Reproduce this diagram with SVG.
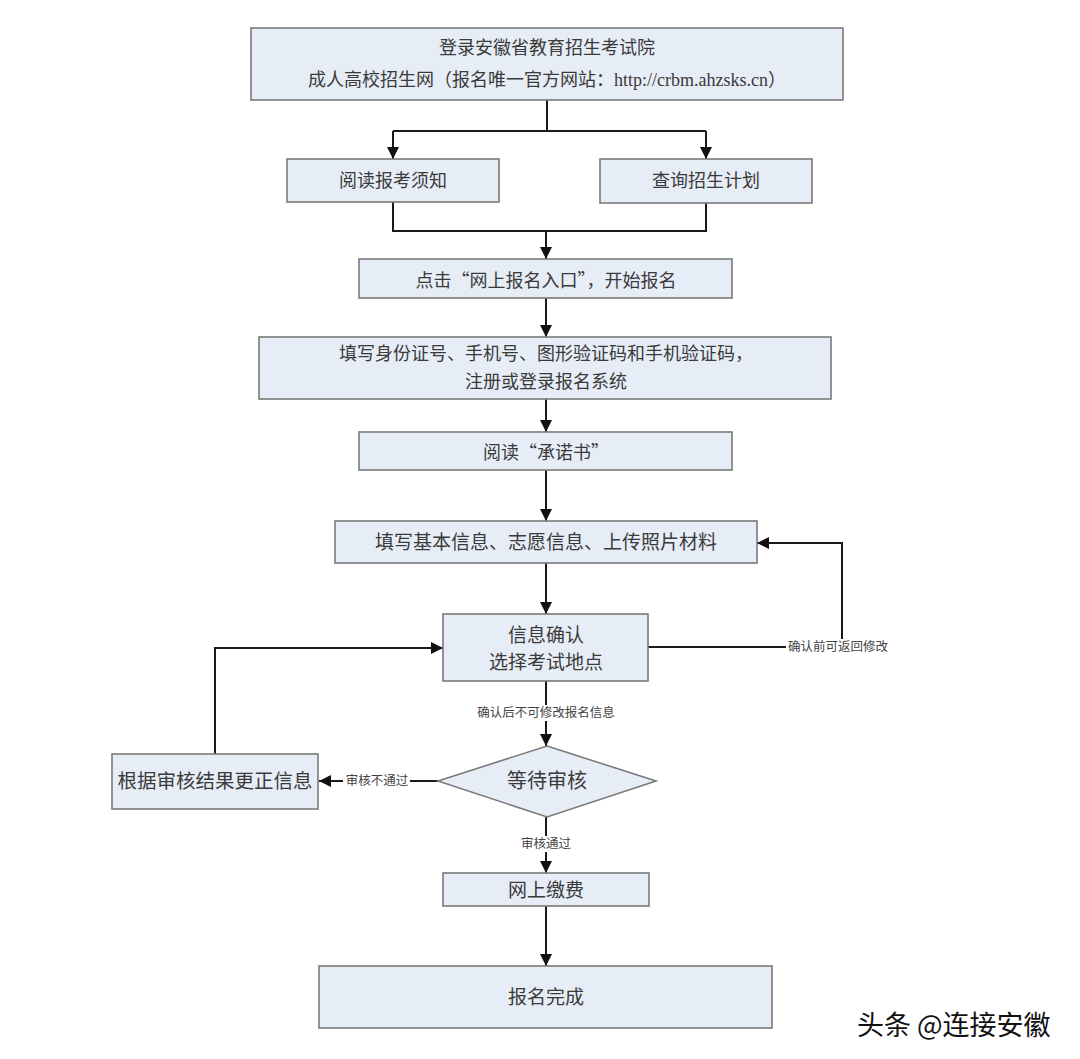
<svg xmlns="http://www.w3.org/2000/svg" width="1080" height="1059" viewBox="0 0 1080 1059">
<defs>
<marker id="arr" markerUnits="userSpaceOnUse" markerWidth="12" markerHeight="12" refX="12" refY="6" orient="auto">
<path d="M0,0 L12,6 L0,12 z" fill="#111"/>
</marker>
<style>
.box{fill:#e7edf6;stroke:#7a7a7a;stroke-width:1.6}
.t{font-family:"Liberation Serif","Noto Sans CJK SC",serif;font-size:18px;fill:#3a3a3a;text-anchor:middle;dominant-baseline:central}
.q{font-family:"Noto Sans CJK SC",sans-serif}
.s{font-family:"Liberation Serif","Noto Sans CJK SC",serif;font-size:12.5px;fill:#444;text-anchor:middle;dominant-baseline:central}
.c{fill:none;stroke:#1a1a1a;stroke-width:2}
.bg{fill:#fff}
</style>
</defs>
<rect width="1080" height="1059" fill="#fff"/>
<g id="connectors">
<path class="c" d="M547,100 V131"/>
<path class="c" d="M393,131 H706"/>
<path class="c" d="M393,131 V159" marker-end="url(#arr)"/>
<path class="c" d="M706,131 V159" marker-end="url(#arr)"/>
<path class="c" d="M393,202 V231 H706 V203"/>
<path class="c" d="M546,231 V259" marker-end="url(#arr)"/>
<path class="c" d="M546,298 V337" marker-end="url(#arr)"/>
<path class="c" d="M546,399 V432" marker-end="url(#arr)"/>
<path class="c" d="M546,470 V521" marker-end="url(#arr)"/>
<path class="c" d="M546,563 V614" marker-end="url(#arr)"/>
<path class="c" d="M546,681 V746" marker-end="url(#arr)"/>
<path class="c" d="M546,817 V873" marker-end="url(#arr)"/>
<path class="c" d="M438,781 H319" marker-end="url(#arr)"/>
<path class="c" d="M215,754 V648 H443" marker-end="url(#arr)"/>
<path class="c" d="M648,647 H842 V543 H757" marker-end="url(#arr)"/>
<path class="c" d="M546,906 V966" marker-end="url(#arr)"/>
<rect class="bg" x="474" y="705" width="144" height="16"/>
<text class="s" x="546" y="713">确认后不可修改报名信息</text>
<rect class="bg" x="517" y="836" width="58" height="16"/>
<text class="s" x="546" y="844">审核通过</text>
<rect class="bg" x="343" y="773" width="67" height="16"/>
<text class="s" x="377" y="781">审核不通过</text>
<rect class="bg" x="786" y="639" width="104" height="16"/>
<text class="s" x="838" y="647">确认前可返回修改</text>
</g>
<g id="n1">
<rect class="box" x="251" y="28" width="592" height="72"/>
<text class="t" x="547" y="48">登录安徽省教育招生考试院</text>
<text class="t" x="547" y="80">成人高校招生网（报名唯一官方网站：http://crbm.ahzsks.cn）</text>
</g>
<g id="n2">
<rect class="box" x="287" y="159" width="212" height="43"/>
<text class="t" x="393" y="181">阅读报考须知</text>
</g>
<g id="n3">
<rect class="box" x="600" y="159" width="212" height="44"/>
<text class="t" x="706" y="181">查询招生计划</text>
</g>
<g id="n4">
<rect class="box" x="359" y="259" width="373" height="39"/>
<text class="t q" x="546" y="279">点击“网上报名入口”，开始报名</text>
</g>
<g id="n5">
<rect class="box" x="259" y="337" width="572" height="62"/>
<text class="t" x="546" y="354">填写身份证号、手机号、图形验证码和手机验证码，</text>
<text class="t" x="546" y="382">注册或登录报名系统</text>
</g>
<g id="n6">
<rect class="box" x="359" y="432" width="373" height="38"/>
<text class="t q" x="546" y="451">阅读“承诺书”</text>
</g>
<g id="n7">
<rect class="box" x="335" y="521" width="422" height="42"/>
<text class="t" x="546" y="542" style="font-size:19px">填写基本信息、志愿信息、上传照片材料</text>
</g>
<g id="n8">
<rect class="box" x="443" y="614" width="205" height="67"/>
<text class="t" x="546" y="635" style="font-size:19px">信息确认</text>
<text class="t" x="546" y="662" style="font-size:19px">选择考试地点</text>
</g>
<g id="n9">
<polygon class="box" points="547,746 656,781 547,817 438,781"/>
<text class="t" x="547" y="781" style="font-size:20px">等待审核</text>
</g>
<g id="n10">
<rect class="box" x="112" y="754" width="206" height="55"/>
<text class="t" x="215" y="781" style="font-size:19.5px">根据审核结果更正信息</text>
</g>
<g id="n11">
<rect class="box" x="443" y="873" width="206" height="33"/>
<text class="t" x="546" y="890" style="font-size:19px">网上缴费</text>
</g>
<g id="n12">
<rect class="box" x="319" y="966" width="453" height="62"/>
<text class="t" x="546" y="997" style="font-size:19px">报名完成</text>
</g>
<text x="857" y="1023" style="font-family:'Noto Sans CJK SC',sans-serif;font-size:27px;fill:#111;dominant-baseline:central;stroke:#fff;stroke-width:0.6;paint-order:stroke">头条 @连接安徽</text>
</svg>
